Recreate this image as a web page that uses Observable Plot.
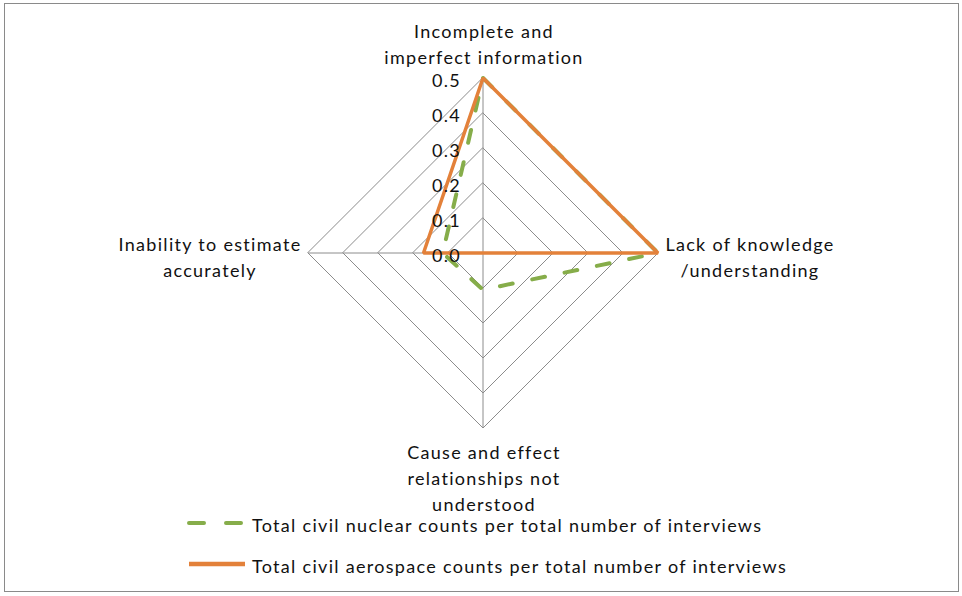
<!DOCTYPE html>
<html>
<head>
<meta charset="utf-8">
<script src="https://cdn.jsdelivr.net/npm/d3@7"></script>
<script src="https://cdn.jsdelivr.net/npm/@observablehq/plot@0.6"></script>
<style>
  html, body { margin: 0; padding: 0; background: #fff; }
  #wrap { position: relative; width: 962px; height: 596px; overflow: hidden; font-family: Lato, "Noto Sans", sans-serif; }
  #frame { position: absolute; left: 4px; top: 3px; width: 953px; height: 587px; border: 1.5px solid #8a8a8a; box-sizing: content-box; pointer-events: none; }
  #chart { position: absolute; left: 0; top: 0; }
  #chart svg { overflow: visible; }
  #chart svg text { letter-spacing: 1.3px; }
  #legend { position: absolute; left: 0; top: 512px; width: 962px; }
  .row { position: absolute; left: 187px; display: flex; align-items: center; height: 22px; font-size: 18px; line-height: 20px; letter-spacing: 1.3px; color: #111; white-space: nowrap; }
  .row svg { margin-right: 5px; }
</style>
</head>
<body>
<div id="wrap">
  <div id="chart"></div>
  <div id="legend"></div>
  <div id="frame"></div>
</div>
<script>
// ---- data ----
const categories = [
  "Incomplete and\nimperfect information",
  "Lack of knowledge\n/understanding",
  "Cause and effect\nrelationships not\nunderstood",
  "Inability to estimate\naccurately"
];
const seriesNames = [
  "Total civil nuclear counts per total number of interviews",
  "Total civil aerospace counts per total number of interviews"
];
const nuclearValues = [0.5, 0.5, 0.105, 0.115];
const aerospaceValues = [0.5, 0.5, 0.0, 0.17];
const tickValues = [0.0, 0.1, 0.2, 0.3, 0.4, 0.5];
const tickLabels = ["0.0", "0.1", "0.2", "0.3", "0.4", "0.5"];
const seriesColors = ["#86ad4a", "#e3813a"];

// ---- geometry ----
const W = 962, H = 512;
const cx = 482.5, cy = 252.5, pxPerUnit = 350;
const maxV = d3.max(tickValues);
const angle = i => (i / categories.length) * 2 * Math.PI; // clockwise from top
const px = (v, i) => v * Math.sin(angle(i));
const py = (v, i) => v * Math.cos(angle(i));

const rings = tickValues.filter(t => t > 0).flatMap(t =>
  categories.map((c, i) => ({r: t, x: px(t, i), y: py(t, i)})));
const spokes = categories.map((c, i) => ({c, i, x2: px(maxV, i), y2: py(maxV, i)}));

const seriesData = [nuclearValues, aerospaceValues].flatMap((vals, s) =>
  vals.map((v, i) => ({series: seriesNames[s], s, x: px(v, i), y: py(v, i)})));

const ticks = tickValues.map((t, k) => ({t, label: tickLabels[k]}));

const labelStyle = [
  {textAnchor: "middle", dx: 1, dy: -35.5},
  {textAnchor: "middle", dx: 92, dy: 3},
  {textAnchor: "middle", dx: 1, dy: 49},
  {textAnchor: "middle", dx: -98, dy: 3}
];

const plot = Plot.plot({
  width: W,
  height: H,
  margin: 0,
  x: {type: "linear", domain: [-cx / pxPerUnit, (W - cx) / pxPerUnit], axis: null},
  y: {type: "linear", domain: [-(H - cy) / pxPerUnit, cy / pxPerUnit], axis: null},
  style: {fontFamily: "Lato, 'Noto Sans', sans-serif", fontSize: "18px", color: "#111", background: "transparent"},
  marks: [
    Plot.line(rings, {x: "x", y: "y", z: "r", curve: "linear-closed", stroke: "#8c8c8c", strokeWidth: 1}),
    Plot.link(spokes, {x1: () => 0, y1: () => 0, x2: "x2", y2: "y2", stroke: "#8c8c8c", strokeWidth: 1}),
    Plot.line(seriesData.filter(d => d.s === 0), {x: "x", y: "y", curve: "linear-closed", stroke: seriesColors[0], strokeWidth: 4, strokeDasharray: "13,20", strokeLinecap: "round"}),
    Plot.line(seriesData.filter(d => d.s === 1), {x: "x", y: "y", curve: "linear-closed", stroke: seriesColors[1], strokeWidth: 3.5, strokeLinejoin: "miter"}),
    ...categories.map((c, i) => Plot.text([c], {
      x: () => px(maxV, i), y: () => py(maxV, i), text: d => d,
      lineHeight: 1.45, fill: "#111", fontSize: 18, ...labelStyle[i]
    })),
    Plot.text(ticks, {x: () => 0, y: "t", text: "label", textAnchor: "end", dx: -22, dy: 3, fill: "#111", fontSize: 18})
  ]
});
document.getElementById("chart").appendChild(plot);

// ---- legend ----
const legend = d3.select("#legend");
const rowTops = [2, 43];
seriesNames.forEach((name, s) => {
  const row = legend.append("div").attr("class", "row").style("top", rowTops[s] + "px");
  const sv = row.append("svg").attr("width", 60).attr("height", 22);
  const ln = sv.append("line").attr("x1", 2).attr("x2", 58).attr("y1", 9).attr("y2", 9)
    .attr("stroke", seriesColors[s]).attr("stroke-width", s === 0 ? 4 : 4.5);
  if (s === 0) ln.attr("stroke-dasharray", "15,22").attr("stroke-linecap", "round");
  row.append("span").text(name);
});
</script>
</body>
</html>
